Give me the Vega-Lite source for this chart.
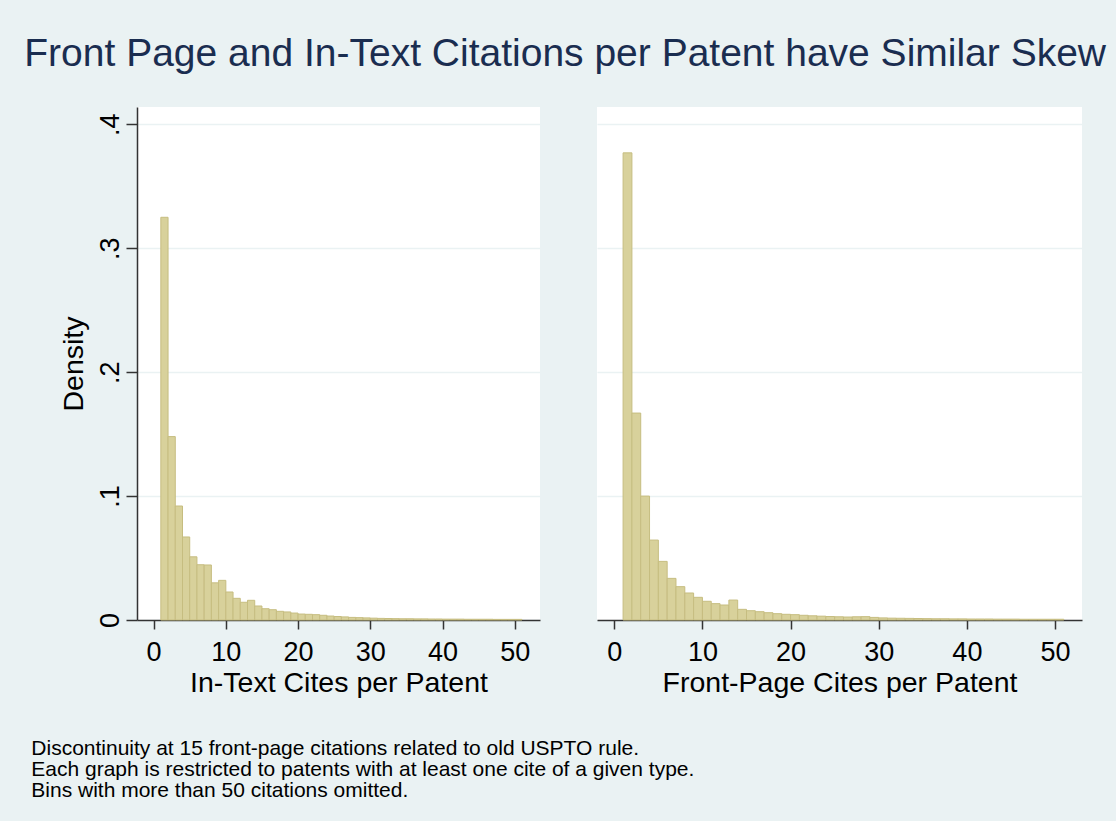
{
  "$schema": "https://vega.github.io/schema/vega-lite/v6.json",
  "background": "#eaf2f3",
  "padding": {"left": 24, "top": 35, "right": 10, "bottom": 20},
  "bounds": "flush",
  "spacing": 57,
  "datasets": {
    "intext": [
      {"lo": 1, "hi": 2, "density": 0.325},
      {"lo": 2, "hi": 3, "density": 0.148},
      {"lo": 3, "hi": 4, "density": 0.092},
      {"lo": 4, "hi": 5, "density": 0.067},
      {"lo": 5, "hi": 6, "density": 0.051},
      {"lo": 6, "hi": 7, "density": 0.0446},
      {"lo": 7, "hi": 8, "density": 0.0444},
      {"lo": 8, "hi": 9, "density": 0.030},
      {"lo": 9, "hi": 10, "density": 0.032},
      {"lo": 10, "hi": 11, "density": 0.0226},
      {"lo": 11, "hi": 12, "density": 0.0175},
      {"lo": 12, "hi": 13, "density": 0.0143},
      {"lo": 13, "hi": 14, "density": 0.0159},
      {"lo": 14, "hi": 15, "density": 0.0113},
      {"lo": 15, "hi": 16, "density": 0.0091},
      {"lo": 16, "hi": 17, "density": 0.0083},
      {"lo": 17, "hi": 18, "density": 0.0070},
      {"lo": 18, "hi": 19, "density": 0.0065},
      {"lo": 19, "hi": 20, "density": 0.0056},
      {"lo": 20, "hi": 21, "density": 0.0048},
      {"lo": 21, "hi": 22, "density": 0.0046},
      {"lo": 22, "hi": 23, "density": 0.0043},
      {"lo": 23, "hi": 24, "density": 0.0038},
      {"lo": 24, "hi": 25, "density": 0.0032},
      {"lo": 25, "hi": 26, "density": 0.0028},
      {"lo": 26, "hi": 27, "density": 0.0025},
      {"lo": 27, "hi": 28, "density": 0.0021},
      {"lo": 28, "hi": 29, "density": 0.0019},
      {"lo": 29, "hi": 30, "density": 0.0017},
      {"lo": 30, "hi": 31, "density": 0.0015},
      {"lo": 31, "hi": 32, "density": 0.0013},
      {"lo": 32, "hi": 33, "density": 0.0012},
      {"lo": 33, "hi": 34, "density": 0.0011},
      {"lo": 34, "hi": 35, "density": 0.0010},
      {"lo": 35, "hi": 36, "density": 0.0010},
      {"lo": 36, "hi": 37, "density": 0.0009},
      {"lo": 37, "hi": 38, "density": 0.0009},
      {"lo": 38, "hi": 39, "density": 0.0008},
      {"lo": 39, "hi": 40, "density": 0.0008},
      {"lo": 40, "hi": 41, "density": 0.0007},
      {"lo": 41, "hi": 42, "density": 0.0007},
      {"lo": 42, "hi": 43, "density": 0.0007},
      {"lo": 43, "hi": 44, "density": 0.0006},
      {"lo": 44, "hi": 45, "density": 0.0006},
      {"lo": 45, "hi": 46, "density": 0.0006},
      {"lo": 46, "hi": 47, "density": 0.0006},
      {"lo": 47, "hi": 48, "density": 0.0005},
      {"lo": 48, "hi": 49, "density": 0.0005},
      {"lo": 49, "hi": 50, "density": 0.0005},
      {"lo": 50, "hi": 51, "density": 0.0005}
    ],
    "frontpage": [
      {"lo": 1, "hi": 2, "density": 0.377},
      {"lo": 2, "hi": 3, "density": 0.167},
      {"lo": 3, "hi": 4, "density": 0.100},
      {"lo": 4, "hi": 5, "density": 0.0645},
      {"lo": 5, "hi": 6, "density": 0.0473},
      {"lo": 6, "hi": 7, "density": 0.0336},
      {"lo": 7, "hi": 8, "density": 0.0269},
      {"lo": 8, "hi": 9, "density": 0.0218},
      {"lo": 9, "hi": 10, "density": 0.0183},
      {"lo": 10, "hi": 11, "density": 0.0151},
      {"lo": 11, "hi": 12, "density": 0.0132},
      {"lo": 12, "hi": 13, "density": 0.0121},
      {"lo": 13, "hi": 14, "density": 0.0161},
      {"lo": 14, "hi": 15, "density": 0.0086},
      {"lo": 15, "hi": 16, "density": 0.0075},
      {"lo": 16, "hi": 17, "density": 0.0067},
      {"lo": 17, "hi": 18, "density": 0.0059},
      {"lo": 18, "hi": 19, "density": 0.0051},
      {"lo": 19, "hi": 20, "density": 0.0046},
      {"lo": 20, "hi": 21, "density": 0.0043},
      {"lo": 21, "hi": 22, "density": 0.0038},
      {"lo": 22, "hi": 23, "density": 0.0034},
      {"lo": 23, "hi": 24, "density": 0.0031},
      {"lo": 24, "hi": 25, "density": 0.0028},
      {"lo": 25, "hi": 26, "density": 0.0026},
      {"lo": 26, "hi": 27, "density": 0.0024},
      {"lo": 27, "hi": 28, "density": 0.0026},
      {"lo": 28, "hi": 29, "density": 0.0027},
      {"lo": 29, "hi": 30, "density": 0.0021},
      {"lo": 30, "hi": 31, "density": 0.0017},
      {"lo": 31, "hi": 32, "density": 0.0015},
      {"lo": 32, "hi": 33, "density": 0.0014},
      {"lo": 33, "hi": 34, "density": 0.0013},
      {"lo": 34, "hi": 35, "density": 0.0012},
      {"lo": 35, "hi": 36, "density": 0.0011},
      {"lo": 36, "hi": 37, "density": 0.0010},
      {"lo": 37, "hi": 38, "density": 0.0010},
      {"lo": 38, "hi": 39, "density": 0.0009},
      {"lo": 39, "hi": 40, "density": 0.0009},
      {"lo": 40, "hi": 41, "density": 0.0008},
      {"lo": 41, "hi": 42, "density": 0.0008},
      {"lo": 42, "hi": 43, "density": 0.0008},
      {"lo": 43, "hi": 44, "density": 0.0007},
      {"lo": 44, "hi": 45, "density": 0.0007},
      {"lo": 45, "hi": 46, "density": 0.0007},
      {"lo": 46, "hi": 47, "density": 0.0006},
      {"lo": 47, "hi": 48, "density": 0.0006},
      {"lo": 48, "hi": 49, "density": 0.0006},
      {"lo": 49, "hi": 50, "density": 0.0006},
      {"lo": 50, "hi": 51, "density": 0.0006}
    ]
  },
  "hconcat": [
    {
      "width": 403,
      "height": 513,
      "data": {"name": "intext"},
      "title": {
        "text": "Front Page and In-Text Citations per Patent have Similar Skew",
        "anchor": "start",
        "frame": "group",
        "dx": -112.7,
        "offset": 33,
        "fontSize": 39,
        "font": "Liberation Sans",
        "fontWeight": "normal",
        "color": "#1a2d50"
      },
      "mark": {"type": "bar", "fill": "#d8d19b", "stroke": "#c6bd80", "strokeWidth": 1},
      "encoding": {
        "x": {
          "field": "lo",
          "type": "quantitative",
          "scale": {"domain": [-2.3, 53.5], "nice": false, "zero": false},
          "axis": {
            "title": "In-Text Cites per Patent",
            "values": [0, 10, 20, 30, 40, 50],
            "grid": false
          }
        },
        "x2": {"field": "hi"},
        "y": {
          "field": "density",
          "type": "quantitative",
          "scale": {"domain": [0, 0.414], "nice": false},
          "axis": {
            "title": "Density",
            "values": [0, 0.1, 0.2, 0.3, 0.4],
            "labelExpr": "datum.value == 0 ? '0' : replace(format(datum.value, '.1f'), '0.', '.')",
            "labelAngle": 270,
            "labelAlign": "center",
            "labelBaseline": "alphabetic",
            "labelPadding": 8,
            "tickSize": 11,
            "titlePadding": 8,
            "grid": true
          }
        },
        "y2": {"datum": 0}
      }
    },
    {
      "width": 485,
      "height": 513,
      "data": {"name": "frontpage"},
      "title": {
        "text": [
          "Discontinuity at 15 front-page citations related to old USPTO rule.",
          "Each graph is restricted to patents with at least one cite of a given type.",
          "Bins with more than 50 citations omitted."
        ],
        "orient": "bottom",
        "anchor": "start",
        "frame": "group",
        "baseline": "top",
        "dx": -565.7,
        "offset": 41,
        "fontSize": 21,
        "lineHeight": 21,
        "font": "Liberation Sans",
        "fontWeight": "normal",
        "color": "#000000"
      },
      "mark": {"type": "bar", "fill": "#d8d19b", "stroke": "#c6bd80", "strokeWidth": 1},
      "encoding": {
        "x": {
          "field": "lo",
          "type": "quantitative",
          "scale": {"domain": [-1.96, 53.06], "nice": false, "zero": false},
          "axis": {
            "title": "Front-Page Cites per Patent",
            "values": [0, 10, 20, 30, 40, 50],
            "grid": false
          }
        },
        "x2": {"field": "hi"},
        "y": {
          "field": "density",
          "type": "quantitative",
          "scale": {"domain": [0, 0.414], "nice": false},
          "axis": {
            "title": null,
            "values": [0.1, 0.2, 0.3, 0.4],
            "labels": false,
            "ticks": false,
            "domain": false,
            "grid": true
          }
        },
        "y2": {"datum": 0}
      }
    }
  ],
  "config": {
    "view": {"fill": "#ffffff", "stroke": null},
    "font": "Liberation Sans",
    "axis": {
      "labelFont": "Liberation Sans",
      "titleFont": "Liberation Sans",
      "labelFontSize": 27,
      "titleFontSize": 28.5,
      "titleFontWeight": "normal",
      "labelColor": "#000000",
      "titleColor": "#000000",
      "domainColor": "#333333",
      "domainWidth": 1.5,
      "tickColor": "#333333",
      "tickWidth": 1.5,
      "gridColor": "#eaf2f3",
      "gridWidth": 1.5,
      "labelOverlap": false,
      "labelFlush": false
    },
    "axisX": {
      "tickSize": 9,
      "labelPadding": 10,
      "titlePadding": 3
    }
  }
}
